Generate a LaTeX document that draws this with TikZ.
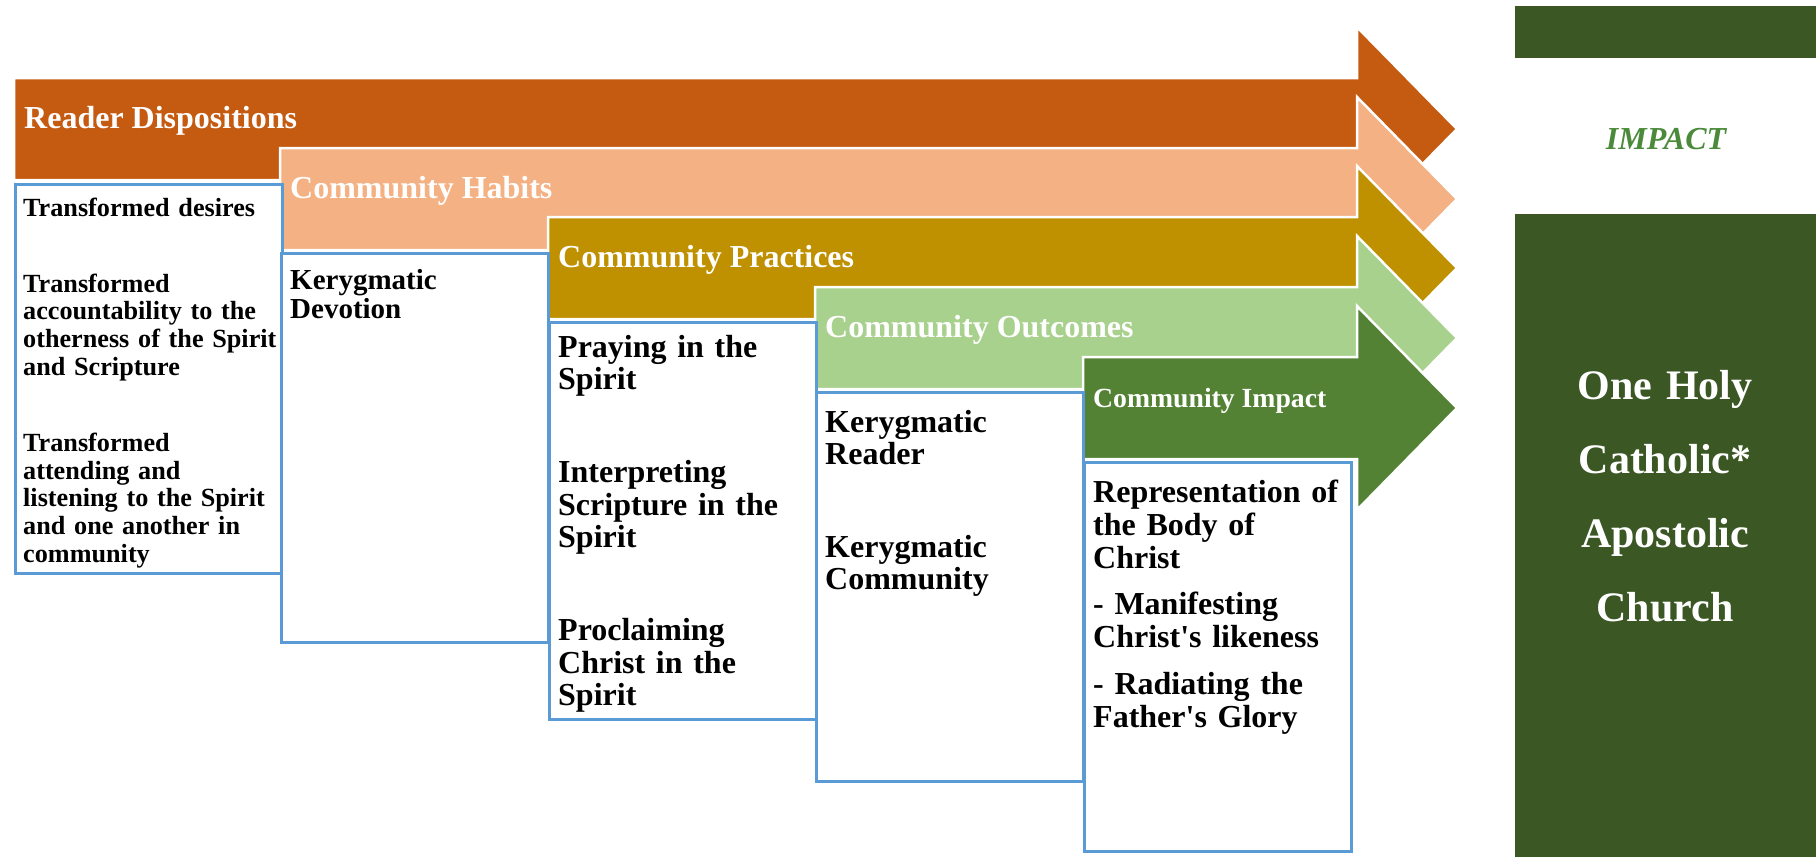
\documentclass[tikz,border=0pt]{standalone}
\usepackage{fontspec}
\setmainfont{Liberation Serif}
\definecolor{rustorange}{HTML}{C55A11}
\definecolor{peach}{HTML}{F4B183}
\definecolor{mustard}{HTML}{BF9000}
\definecolor{sage}{HTML}{A9D18E}
\definecolor{leafgreen}{HTML}{548235}
\definecolor{forest}{HTML}{3A5724}
\definecolor{impactgreen}{HTML}{4A8A3A}
\definecolor{boxblue}{HTML}{5B9BD5}
\tikzset{
  band/.style={draw=white, line width=2.5pt, line join=miter},
  box/.style={draw=boxblue, line width=2.5pt, fill=white, anchor=north west, minimum width=267pt, minimum height=389pt, inner sep=0pt},
  bandtitle/.style={anchor=base west, text=white, inner sep=0pt, font=\bfseries\fontsize{32}{34}\selectfont},
  boxtext/.style={anchor=base west, text width=285pt, align=left, inner sep=0pt, font=\bfseries\fontsize{32}{32.5}\selectfont}
}
\begin{document}
\begin{tikzpicture}[x=1pt, y=-1pt]
  \useasboundingbox (0,0) rectangle (1816,857);
  \filldraw[band, fill=rustorange] (14,78) -- (1357,78) -- (1357,27) -- (1457,129) -- (1357,231) -- (1357,180) -- (14,180) -- cycle;
  \filldraw[band, fill=peach] (280,148) -- (1357,148) -- (1357,97) -- (1457,199) -- (1357,301) -- (1357,250) -- (280,250) -- cycle;
  \filldraw[band, fill=mustard] (548,217) -- (1357,217) -- (1357,166) -- (1457,268) -- (1357,370) -- (1357,319) -- (548,319) -- cycle;
  \filldraw[band, fill=sage] (815,287) -- (1357,287) -- (1357,236) -- (1457,338) -- (1357,440) -- (1357,389) -- (815,389) -- cycle;
  \filldraw[band, fill=leafgreen] (1083,357) -- (1357,357) -- (1357,306) -- (1457,408) -- (1357,510) -- (1357,459) -- (1083,459) -- cycle;
  \node[bandtitle] (t1) at (24,128) {Reader Dispositions};
  \node[bandtitle] (t2) at (290,198) {Community Habits};
  \node[bandtitle] (t3) at (558,267) {Community Practices};
  \node[bandtitle] (t4) at (825,337) {Community Outcomes};
  \node[bandtitle, font=\bfseries\fontsize{27.7}{30}\selectfont] (t5) at (1093,407) {Community Impact};
  \node[box] (b1) at (14,183) {};
  \node[box] (b2) at (280,252) {};
  \node[box, minimum height=397pt] (b3) at (548,321) {};
  \node[box] (b4) at (815,391) {};
  \node[box] (b5) at (1083,461) {};
  \node[boxtext, font=\bfseries\fontsize{26.2}{27.7}\selectfont] (p1) at ([xshift=9pt, yshift=-33pt]b1.north west) {Transformed desires\\[48.5pt]Transformed\\accountability to the\\otherness of the Spirit\\and Scripture\\[48.5pt]Transformed\\attending and\\listening to the Spirit\\and one another in\\community};
  \node[boxtext, font=\bfseries\fontsize{29}{29}\selectfont] (p2) at ([xshift=10pt, yshift=-37pt]b2.north west) {Kerygmatic\\Devotion};
  \node[boxtext] (p3) at ([xshift=10pt, yshift=-36pt]b3.north west) {Praying in the\\Spirit\\[60.5pt]Interpreting\\Scripture in the\\Spirit\\[60.5pt]Proclaiming\\Christ in the\\Spirit};
  \node[boxtext] (p4) at ([xshift=10pt, yshift=-41pt]b4.north west) {Kerygmatic\\Reader\\[60pt]Kerygmatic\\Community};
  \node[boxtext, font=\bfseries\fontsize{32}{33}\selectfont] (p5) at ([xshift=10pt, yshift=-41pt]b5.north west) {Representation of\\the Body of\\Christ\\[13.5pt]- Manifesting\\Christ\textquotesingle s likeness\\[14pt]- Radiating the\\Father\textquotesingle s Glory};
  \fill[forest] (1515,6) rectangle (1816,857);
  \fill[white] (1515,58) rectangle (1816,214);
  \node[anchor=base, inner sep=0pt, text=impactgreen, font=\bfseries\itshape\fontsize{32}{34}\selectfont] (imp) at (1666,149) {IMPACT};
  \node[anchor=base, inner sep=0pt, text=white, align=center, text width=290pt, font=\bfseries\fontsize{42}{74}\selectfont] (church) at (1665,399) {One Holy\\Catholic*\\Apostolic\\Church};
\end{tikzpicture}
\end{document}
